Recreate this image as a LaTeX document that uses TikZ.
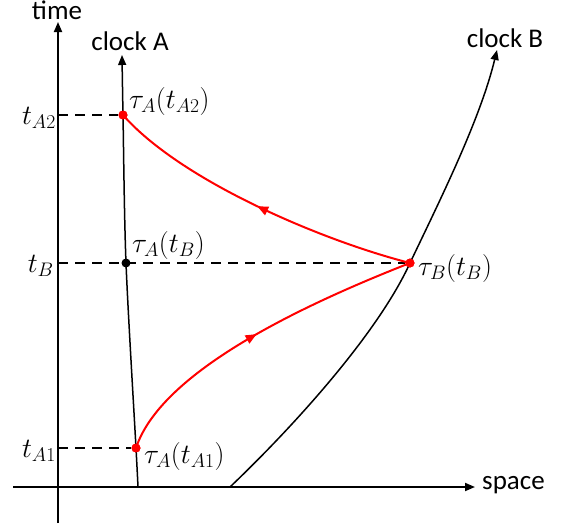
\documentclass[tikz,border=0pt]{standalone}
\usepackage{fix-cm}
\usepackage{fontspec}
\setmainfont{Carlito}
\usetikzlibrary{arrows.meta,decorations.markings}
\begin{document}
\begin{tikzpicture}[x=1pt,y=-1pt,
  font=\fontsize{27}{31}\selectfont,
  axis/.style={line width=1.8pt,-{Triangle[length=10pt,width=8pt]}},
  worldline/.style={line width=1.5pt,-{Triangle[length=10pt,width=8pt]}},
  guide/.style={line width=1.6pt,dash pattern=on 10pt off 7pt},
  signal/.style={red,line width=2pt,postaction={decorate},
    decoration={markings,mark=at position 0.5 with {\arrow{Triangle[length=11pt,width=9pt]}}}},
  reddot/.style={circle,fill=red,inner sep=0pt,minimum size=9pt},
  blackdot/.style={circle,fill=black,inner sep=0pt,minimum size=9pt},
  lbl/.style={inner sep=1pt},
  mlbl/.style={inner sep=1pt,font=\fontsize{28}{32}\selectfont}]
\useasboundingbox (0,0) rectangle (562,531);
% axes
\coordinate (tbot) at (58,523);
\coordinate (ttop) at (58,22);
\coordinate (sleft) at (13,487);
\coordinate (sright) at (475,487);
\draw[axis] (tbot) -- (ttop);
\draw[axis] (sleft) -- (sright);
\node[lbl] (timelbl) at (57,10) {time};
\node[lbl,anchor=west] (spacelbl) at (481,485) {space};
% events
\node[reddot] (A2) at (123,115) {};
\node[blackdot] (AB) at (126,263) {};
\node[reddot] (A1) at (136,448) {};
\node[reddot] (B) at (410,263) {};
% clock A worldline
\coordinate (A0) at (138,487);
\coordinate (Atop) at (122,55);
\draw[worldline] plot[smooth,tension=0.5] coordinates {(A0) (A1) (AB) (A2) (Atop)};
\node[lbl] (clockA) at (130,41) {clock A};
% clock B worldline
\coordinate (B0) at (230,487);
\coordinate (Btop) at (497,50);
\draw[worldline] (B0) .. controls (295,425) and (378,333) .. (B.center)
  .. controls (440,200) and (480,120) .. (Btop);
\node[lbl] (clockB) at (505,38) {clock B};
% dashed guides
\coordinate (yA2) at (58,115);
\coordinate (yB) at (58,263);
\coordinate (yA1) at (58,448);
\draw[guide] (yA2) -- (A2);
\draw[guide] (yB) -- (B);
\draw[guide] (yA1) -- (A1);
\node[mlbl,anchor=east] (tA2) at (57,118) {$t_{A2}$};
\node[mlbl,anchor=east] (tB) at (55,266) {$t_{B}$};
\node[mlbl,anchor=east] (tA1) at (57,451) {$t_{A1}$};
% signals
\draw[signal] (A1.center) .. controls (160,375) and (290,310) .. (B.center);
\draw[signal] (B.center) .. controls (320,240) and (180,180) .. (A2.center);
\node[reddot] at (A2) {};
\node[reddot] at (A1) {};
\node[reddot] at (B) {};
% event labels
\node[mlbl,anchor=west] (lA2) at (128,101) {$\tau_A(t_{A2})$};
\node[mlbl,anchor=west] (lAB) at (131,245) {$\tau_A(t_B)$};
\node[mlbl,anchor=west] (lB) at (417,268) {$\tau_B(t_B)$};
\node[mlbl,anchor=west] (lA1) at (143,456) {$\tau_A(t_{A1})$};
\end{tikzpicture}
\end{document}
